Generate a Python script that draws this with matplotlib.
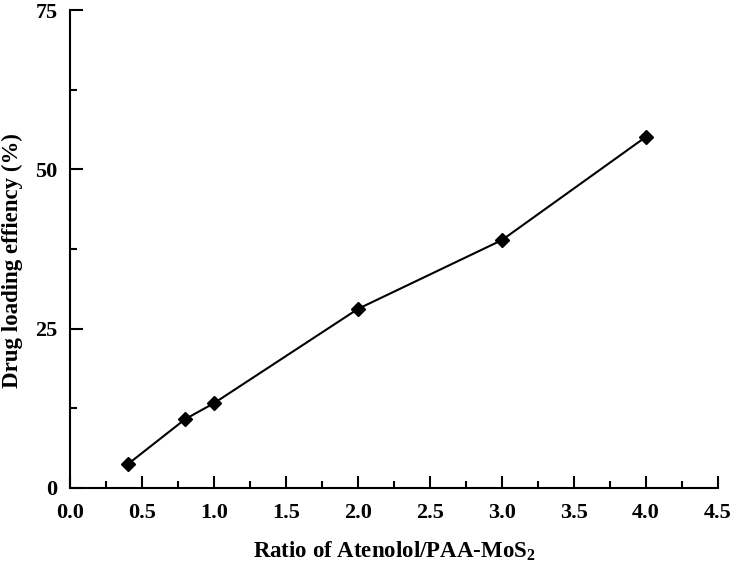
import matplotlib
matplotlib.use('Agg')
import matplotlib.pyplot as plt
from matplotlib.ticker import MultipleLocator

# Ratio of Atenolol / PAA-MoS2 vs drug loading efficiency
ratio = [0.4, 0.8, 1.0, 2.0, 3.0, 4.0]
efficiency = [3.7, 10.8, 13.3, 28.1, 38.9, 55.1]

plt.rcParams['font.family'] = ['Liberation Serif', 'DejaVu Serif']
plt.rcParams['font.weight'] = 'bold'
plt.rcParams['mathtext.fontset'] = 'custom'
plt.rcParams['mathtext.rm'] = 'Liberation Serif:bold'
plt.rcParams['mathtext.default'] = 'rm'

fig = plt.figure(figsize=(7.35, 5.69), dpi=100)
ax = fig.add_axes([0.0952, 0.1424, 0.8816, 0.840])

ax.plot(ratio, efficiency, color='black', lw=1.5, marker='D', ms=7.3,
        markerfacecolor='black', markeredgecolor='black')

ax.set_xlim(0, 4.5)
ax.set_ylim(0, 75)
ax.xaxis.set_major_locator(MultipleLocator(0.5))
ax.xaxis.set_minor_locator(MultipleLocator(0.25))
ax.yaxis.set_major_locator(MultipleLocator(25))
ax.yaxis.set_minor_locator(MultipleLocator(12.5))
ax.xaxis.set_major_formatter(plt.FormatStrFormatter('%.1f'))

for s in ['top', 'right']:
    ax.spines[s].set_visible(False)
for s in ['left', 'bottom']:
    ax.spines[s].set_linewidth(1.5)

ax.tick_params(which='major', direction='in', length=9, width=1.5, labelsize=16)
ax.tick_params(axis='x', which='major', pad=11)
ax.tick_params(axis='y', which='major', pad=9)
ax.tick_params(which='minor', direction='in', length=5, width=1.5)

ax.set_xlabel('Ratio of Atenolol/PAA-MoS$_2$', fontsize=16.5, fontweight='bold', labelpad=12)
ax.set_ylabel('Drug loading effiency (%)', fontsize=16.5, fontweight='bold')
ax.yaxis.set_label_coords(-0.072, 0.475)

fig.savefig('out.png', dpi=100)
